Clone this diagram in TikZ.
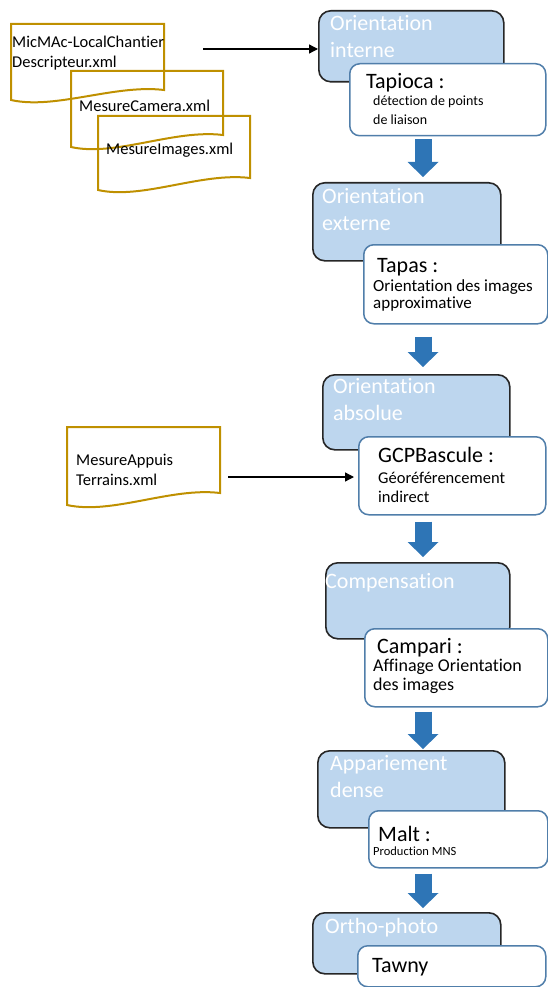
\documentclass[tikz,border=0pt]{standalone}
\usepackage{fontspec}
\setmainfont{Carlito}[Ligatures=NoCommon]
\usepackage{xcolor}
\usepackage{tikz}
\usetikzlibrary{arrows.meta}
\usetikzlibrary{calc}

\definecolor{phaseblue}{RGB}{189,214,238}
\definecolor{tooledge}{RGB}{80,126,170}
\definecolor{flowblue}{RGB}{46,117,182}
\definecolor{docgold}{RGB}{191,144,0}

\begin{document}
\begin{tikzpicture}[x=1pt, y=-1pt,
        phase/.style={draw=black!85, fill=phaseblue, line width=1.6pt, rounded corners=12pt, anchor=north west, inner sep=0pt},
        tool/.style={draw=tooledge, fill=white, line width=1.5pt, rounded corners=10pt, anchor=north west, inner sep=0pt},
        phasetxt/.style={text=white, font=\fontsize{22}{27}\selectfont, align=left, anchor=base west, inner sep=0pt},
        tooltxt/.style={font=\fontsize{22}{26}\selectfont, anchor=base west, inner sep=0pt},
        subtxt/.style={align=left, anchor=base west, inner sep=0pt},
        docline/.style={draw=docgold, line width=2pt},
        doctxt/.style={font=\fontsize{16.5}{19.5}\selectfont, align=left, anchor=base west, inner sep=0pt},
        flow/.style={draw=flowblue, line width=17pt, -{Triangle[width=31pt, length=15pt, line width=0pt]}},
        link/.style={line width=1.3pt, -{Triangle[width=9pt, length=9pt]}}]
        \useasboundingbox (0,0) rectangle (547,987);

        % Fichiers xml (textes places sur la ligne de base de la derniere ligne)
        \draw[docline] (11,24) -- (164,24) -- (164,90) .. controls (115,84) and (55,110) .. (11,100) -- cycle;
        \draw[docline] (71,71) -- (223,71) -- (223,135) .. controls (174,129) and (115,157) .. (71,147) -- cycle;
        \draw[docline] (98,116) -- (250,116) -- (250,178) .. controls (201,172) and (142,200) .. (98,190) -- cycle;
        \draw[docline] (67,427) -- (220,427) -- (220,493) .. controls (171,487) and (112,515) .. (67,505) -- cycle;
        \node[doctxt] (d1) at (12,67.5) {MicMAc-LocalChantier\\Descripteur.xml};
        \node[doctxt] (d2) at (79,112) {MesureCamera.xml};
        \node[doctxt] (d3) at (106,155) {MesureImages.xml};
        \node[doctxt] (d4) at (76,485) {MesureAppuis\\Terrains.xml};

        % Etapes
        \node[phase, minimum width=185pt, minimum height=71pt] (oi) at (318,10) {};
        \node[tool, minimum width=196pt, minimum height=72pt] (tap) at (349,63) {};
        \node[phase, minimum width=188pt, minimum height=78pt] (oe) at (312,182) {};
        \node[tool, minimum width=184pt, minimum height=79pt] (tapas) at (363,244) {};
        \node[phase, minimum width=187pt, minimum height=75pt] (oa) at (322,374) {};
        \node[tool, minimum width=187pt, minimum height=78pt] (gcp) at (358,436) {};
        \node[phase, minimum width=184pt, minimum height=76pt] (comp) at (325,562) {};
        \node[tool, minimum width=183pt, minimum height=78pt] (camp) at (364,628) {};
        \node[phase, minimum width=187pt, minimum height=77pt] (ad) at (317,750) {};
        \node[tool, minimum width=179pt, minimum height=57pt] (malt) at (368,810) {};
        \node[phase, minimum width=188pt, minimum height=61pt] (op) at (312,912) {};
        \node[tool, minimum width=188pt, minimum height=41pt] (tawny) at (357,945) {};

        % Textes
        \node[phasetxt] (oiT) at (330,58) {Orientation\\interne};
        \node[phasetxt] (oeT) at (322,230) {Orientation\\externe};
        \node[phasetxt] (oaT) at (333,420) {Orientation\\absolue};
        \node[phasetxt] (compT) at (325,588) {Compensation};
        \node[phasetxt] (adT) at (330,797) {Appariement\\dense};
        \node[phasetxt] (opT) at (325,933) {Ortho-photo};

        \node[tooltxt] (tapT) at (366,89) {Tapioca :};
        \node[subtxt, font=\fontsize{14}{19}\selectfont] (tapS) at (373,125) {détection de points\\de liaison};
        \node[tooltxt] (tapasT) at (377,272) {Tapas :};
        \node[subtxt, font=\fontsize{17}{17}\selectfont] (tapasS) at (373,308) {Orientation des images\\approximative};
        \node[tooltxt] (gcpT) at (378,462) {GCPBascule :};
        \node[subtxt, font=\fontsize{16.5}{19}\selectfont] (gcpS) at (378,502) {Géoréférencement\\indirect};
        \node[tooltxt] (campT) at (377,653) {Campari :};
        \node[subtxt, font=\fontsize{18}{19}\selectfont] (campS) at (373,690) {Affinage Orientation\\des images};
        \node[tooltxt] (maltT) at (378,841) {Malt :};
        \node[subtxt, font=\fontsize{12.5}{15}\selectfont] (maltS) at (373,855) {Production MNS};
        \node[tooltxt] (tawnyT) at (372,972) {Tawny};

        % Fleches
        \coordinate (d1out) at (203,49);
        \coordinate (d4out) at (228,477);
        \draw[link] (d1out) -- (d1out -| oi.west);
        \draw[link, shorten >=4pt] (d4out) -- (d4out -| gcp.west);

        \coordinate (axis) at (423,0);
        \draw[flow] ($(axis |- tap.south)+(0,3)$) -- ($(axis |- oe.north)+(0,-5)$);
        \draw[flow] ($(axis |- tapas.south)+(0,12)$) -- ($(axis |- oa.north)+(0,-7)$);
        \draw[flow] ($(axis |- gcp.south)+(0,6)$) -- ($(axis |- comp.north)+(0,-5)$);
        \draw[flow] ($(axis |- camp.south)+(0,4)$) -- ($(axis |- ad.north)+(0,-1)$);
        \draw[flow] ($(axis |- malt.south)+(0,5)$) -- ($(axis |- op.north)+(0,-4)$);
\end{tikzpicture}
\end{document}
